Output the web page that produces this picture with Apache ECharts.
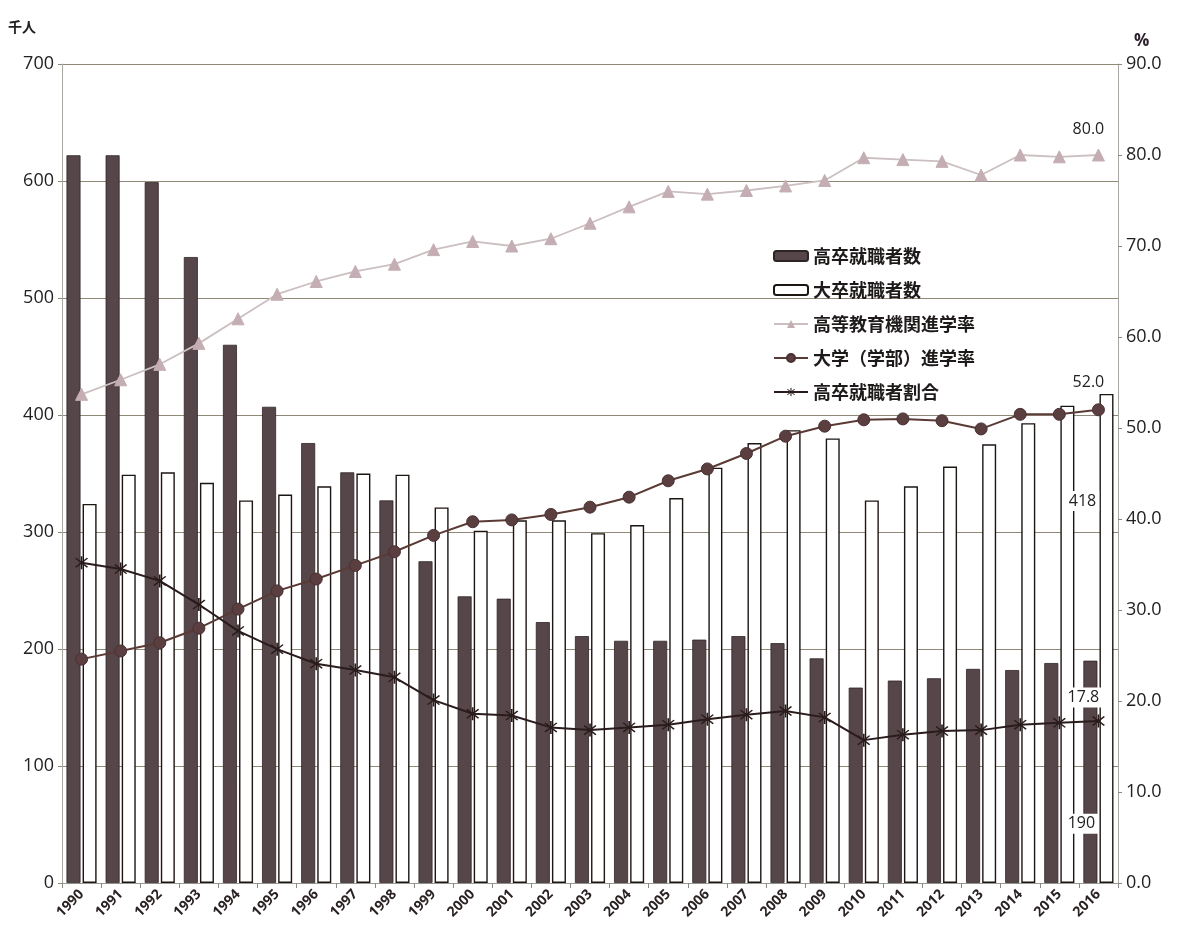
<!DOCTYPE html>
<html>
<head>
<meta charset="utf-8">
<script src="https://cdn.jsdelivr.net/npm/echarts@6/dist/echarts.min.js"></script>
<style>
html,body{margin:0;padding:0;background:#fff;}
#c{width:1178px;height:933px;}
</style>
</head>
<body>
<div id="c"></div>
<script>
const years = ['1990','1991','1992','1993','1994','1995','1996','1997','1998','1999','2000','2001','2002','2003','2004','2005','2006','2007','2008','2009','2010','2011','2012','2013','2014','2015','2016'];
const hsEmployed = [622,622,599,535,460,407,376,351,327,275,245,243,223,211,207,207,208,211,205,192,167,173,175,183,182,188,190];
const univEmployed = [324,349,351,342,327,332,339,350,349,321,301,310,310,299,306,329,355,376,387,380,327,339,356,375,393,408,418];
const higherEduRate = [53.7,55.3,57.0,59.3,62.0,64.7,66.1,67.2,68.0,69.6,70.5,70.0,70.8,72.5,74.3,76.0,75.7,76.1,76.6,77.2,79.7,79.5,79.3,77.8,80.0,79.8,80.0];
const univRate = [24.6,25.5,26.4,28.0,30.1,32.1,33.4,34.9,36.4,38.2,39.7,39.9,40.5,41.3,42.4,44.2,45.5,47.2,49.1,50.2,50.9,51.0,50.8,49.9,51.5,51.5,52.0];
const hsEmployRatio = [35.2,34.5,33.2,30.6,27.7,25.7,24.1,23.4,22.6,20.1,18.6,18.4,17.1,16.8,17.1,17.4,18.0,18.5,18.9,18.2,15.7,16.3,16.7,16.8,17.4,17.6,17.8];

const leftTicks = {min:0, max:700, interval:100};
const rightTicks = {min:0, max:90, interval:10};

const font = '"Open Sans", "Noto Sans", sans-serif';
const cjk = '"Noto Sans CJK JP", sans-serif';
const last = years.length - 1;

const asterisk = 'path://M-1,-10L1,-10L1,10L-1,10Z M-7.7,-6.3L-6.3,-7.7L7.7,6.3L6.3,7.7Z M-7.7,6.3L6.3,-7.7L7.7,-6.3L-6.3,7.7Z';

function withLastLabel(arr, label) {
  return arr.map((v, i) => i === last ? {value: v, label: Object.assign({show: true}, label)} : v);
}
const boxLabel = {color:'#222', fontFamily: font, fontSize: 16, backgroundColor:'#fff', padding:[2,3]};

const chart = echarts.init(document.getElementById('c'));
chart.setOption({
  backgroundColor: '#fff',
  animation: false,
  grid: {left: 62, right: 60, top: 64, bottom: 50},
  legend: {
    orient: 'vertical',
    left: 768, top: 240,
    itemGap: 12,
    itemWidth: 34, itemHeight: 10,
    textStyle: {fontFamily: cjk, fontSize: 18, fontWeight: 'bold', color: '#1e1a1a', lineHeight: 22},
    data: ['高卒就職者数','大卒就職者数','高等教育機関進学率','大学（学部）進学率','高卒就職者割合']
  },
  xAxis: {
    type: 'category',
    data: years,
    boundaryGap: true,
    axisLine: {lineStyle: {color: '#9a9a94', width: 1}},
    axisTick: {show: true, interval: 0, length: 5, lineStyle: {color: '#8a8a84'}},
    axisLabel: {interval: 0, rotate: 45, fontFamily: font, fontSize: 14, fontWeight: 'bold', color: '#2a2222', margin: 9},
    splitLine: {show: false}
  },
  yAxis: [
    {
      type: 'value', min: leftTicks.min, max: leftTicks.max, interval: leftTicks.interval,
      name: '千人', nameLocation: 'end', nameGap: 30,
      nameTextStyle: {fontFamily: cjk, fontSize: 14, fontWeight: 'bold', color: '#222', align: 'right', padding: [0, 26, 0, 0]},
      axisLine: {show: true, lineStyle: {color: '#a8a8a2', width: 1}},
      axisTick: {show: true, length: 4, lineStyle: {color: '#8a8a84'}},
      axisLabel: {fontFamily: font, fontSize: 18, color: '#222', margin: 8},
      splitLine: {show: true, lineStyle: {color: '#8f8a78', width: 1}}
    },
    {
      type: 'value', min: rightTicks.min, max: rightTicks.max, interval: rightTicks.interval,
      name: '%', nameLocation: 'end', nameGap: 14,
      nameTextStyle: {fontFamily: font, fontSize: 17, fontWeight: 'bold', color: '#2a1f2a', align: 'left', padding: [0, 0, 0, 16]},
      axisLine: {show: true, lineStyle: {color: '#a8a8a2', width: 1}},
      axisTick: {show: true, length: 4, lineStyle: {color: '#8a8a84'}},
      axisLabel: {fontFamily: font, fontSize: 18, color: '#222', margin: 8, formatter: v => v.toFixed(1)},
      splitLine: {show: false}
    }
  ],
  series: [
    {
      name: '高卒就職者数', type: 'bar', yAxisIndex: 0,
      barWidth: 14, barGap: '15%',
      itemStyle: {color: '#564649', borderColor: '#2e2426', borderWidth: 0.8},
      data: withLastLabel(hsEmployed, Object.assign({position: 'insideTop', offset: [-9, 148]}, boxLabel)),
      z: 2
    },
    {
      name: '大卒就職者数', type: 'bar', yAxisIndex: 0,
      barWidth: 14,
      itemStyle: {color: '#ffffff', borderColor: '#1c1612', borderWidth: 1.4},
      data: withLastLabel(univEmployed, Object.assign({position: 'insideTop', offset: [-24, 92]}, boxLabel)),
      z: 2
    },
    {
      name: '高等教育機関進学率', type: 'line', yAxisIndex: 1,
      symbol: 'triangle', symbolSize: 12,
      lineStyle: {color: '#cbbfc0', width: 1.8},
      itemStyle: {color: '#c4aeb4', borderColor: '#c4aeb4'},
      data: withLastLabel(higherEduRate, {position: 'top', offset: [-10, -6], color: '#222', fontFamily: font, fontSize: 16, formatter: p => p.value.toFixed(1)}),
      z: 5
    },
    {
      name: '大学（学部）進学率', type: 'line', yAxisIndex: 1,
      symbol: 'circle', symbolSize: 12,
      lineStyle: {color: '#5a3a34', width: 2},
      itemStyle: {color: '#5a3e40', borderColor: '#4a3032', borderWidth: 1},
      data: withLastLabel(univRate, {position: 'top', offset: [-10, -8], color: '#222', fontFamily: font, fontSize: 16, formatter: p => p.value.toFixed(1)}),
      z: 5
    },
    {
      name: '高卒就職者割合', type: 'line', yAxisIndex: 1,
      symbol: asterisk, symbolSize: 13,
      lineStyle: {color: '#2a1c1c', width: 2},
      itemStyle: {color: '#2a1c1c'},
      data: withLastLabel(hsEmployRatio, Object.assign({position: 'top', offset: [-15, -2], formatter: p => p.value.toFixed(1)}, boxLabel)),
      z: 6
    }
  ]
});
</script>
</body>
</html>
